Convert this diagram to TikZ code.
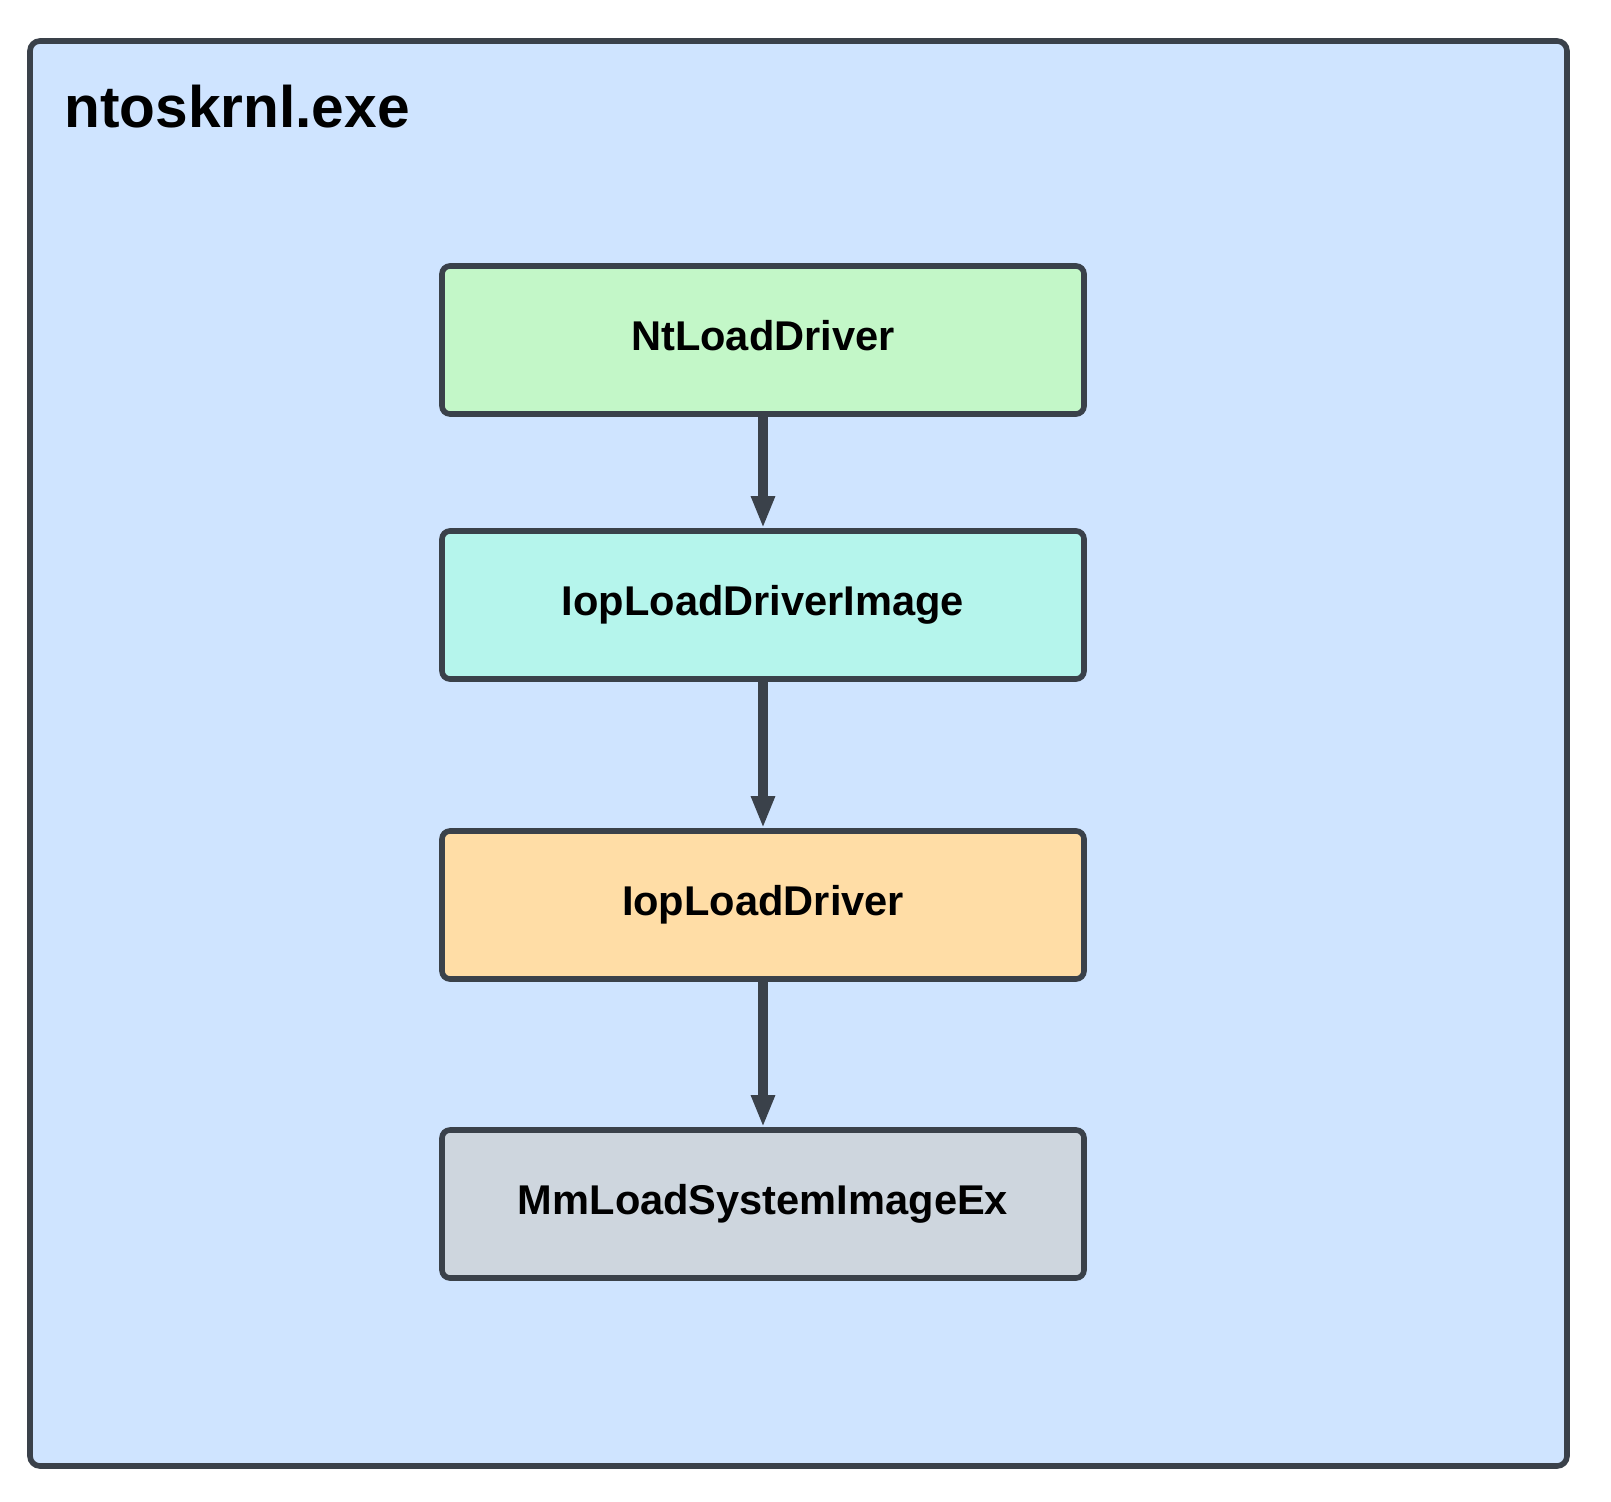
\documentclass[tikz,border=0pt]{standalone}
\usepackage{fontspec}
\setmainfont{Liberation Sans}
\usetikzlibrary{arrows.meta}
\definecolor{edgec}{HTML}{3A414A}
\definecolor{bgblue}{HTML}{CFE4FF}
\definecolor{fgreen}{HTML}{C3F7C8}
\definecolor{fcyan}{HTML}{B5F5EC}
\definecolor{forange}{HTML}{FFDDA6}
\definecolor{fgray}{HTML}{CED6DE}
\tikzset{
  outerbox/.style={draw=edgec, fill=bgblue, line width=2.8pt, rounded corners=5pt},
  funcbox/.style={draw=edgec, line width=2.8pt, rounded corners=4pt, rectangle,
    minimum width=321pt, minimum height=74pt, inner sep=0pt,
    font=\fontsize{20.8}{24}\selectfont\bfseries, text height=14.9pt, text depth=4pt},
  callarrow/.style={draw=edgec, line width=4.6pt, -{Triangle[width=11pt,length=16pt]}},
  titletext/.style={font=\fontsize{29.3}{34}\selectfont\bfseries, inner sep=0pt}
}
\begin{document}
\begin{tikzpicture}[x=0.5pt,y=-0.5pt]
\useasboundingbox (0,0) rectangle (1611,1502);
\draw[outerbox] (30,41) rectangle (1567,1466);
\node[titletext, anchor=base west] (title) at (64,128) {ntoskrnl.exe};
\node[funcbox, fill=fgreen] (b1) at (763,340) {NtLoadDriver};
\node[funcbox, fill=fcyan] (b2) at (763,605) {IopLoadDriverImage};
\node[funcbox, fill=forange] (b3) at (763,905) {IopLoadDriver};
\node[funcbox, fill=fgray] (b4) at (763,1204) {MmLoadSystemImageEx};
\draw[callarrow] (b1.south) -- (b2.north);
\draw[callarrow] (b2.south) -- (b3.north);
\draw[callarrow] (b3.south) -- (b4.north);
\end{tikzpicture}
\end{document}
